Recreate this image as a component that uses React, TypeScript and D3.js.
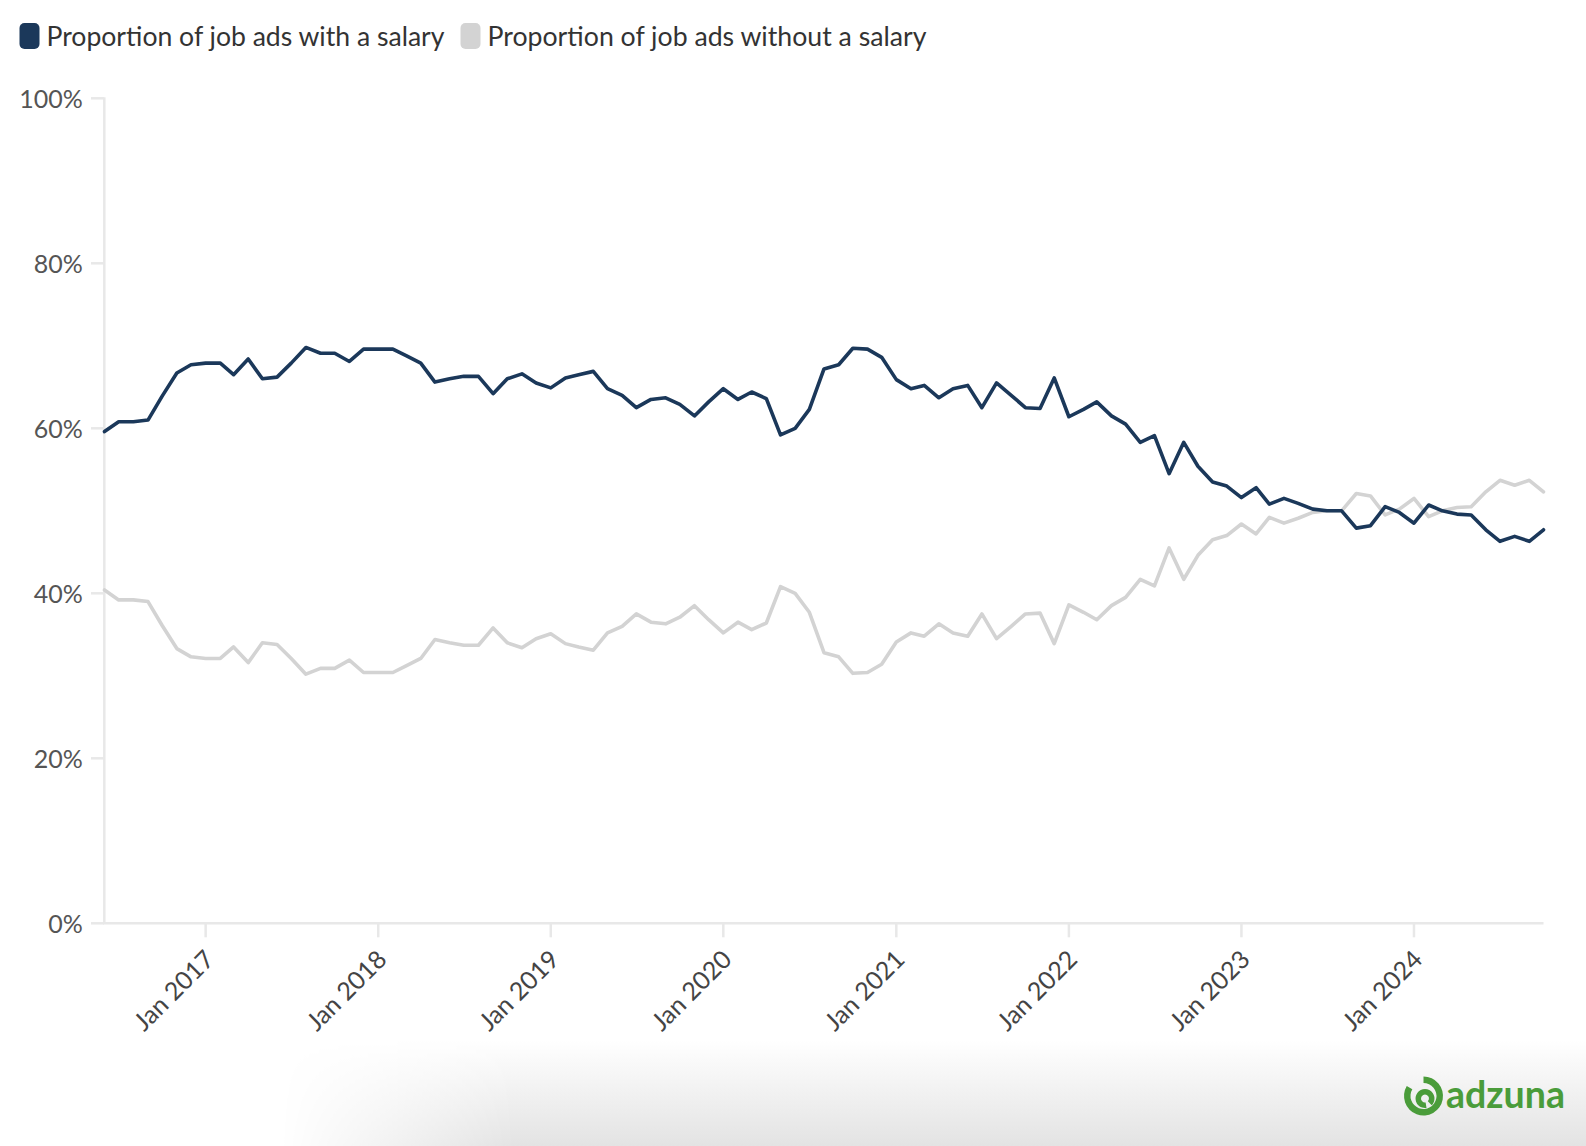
import React, { useEffect, useRef } from "react";
import * as d3 from "d3";

const START_MONTH = "2016-06-01";
const END_MONTH = "2024-10-01";

const withSalary: number[] = [
  59.6, 60.8, 60.8, 61.0, 63.9, 66.7, 67.7, 67.9, 67.9, 66.5,
  68.4, 66.0, 66.2, 67.9, 69.8, 69.1, 69.1, 68.1, 69.6, 69.6,
  69.6, 68.8, 67.9, 65.6, 66.0, 66.3, 66.3, 64.2, 66.0, 66.6,
  65.5, 64.9, 66.1, 66.5, 66.9, 64.8, 64.0, 62.5, 63.5, 63.7,
  62.9, 61.5, 63.2, 64.8, 63.5, 64.4, 63.6, 59.2, 60.0, 62.3,
  67.2, 67.7, 69.7, 69.6, 68.6, 65.9, 64.8, 65.2, 63.7, 64.8,
  65.2, 62.5, 65.5, 64.0, 62.5, 62.4, 66.1, 61.4, 62.3, 63.2,
  61.5, 60.5, 58.3, 59.1, 54.5, 58.3, 55.4, 53.5, 53.0, 51.6,
  52.8, 50.8, 51.5, 50.9, 50.2, 50.0, 50.0, 47.9, 48.2, 50.5,
  49.8, 48.5, 50.7, 50.0, 49.6, 49.5, 47.7, 46.3, 46.9, 46.3,
  47.7,
];

const withoutSalary: number[] = [
  40.4, 39.2, 39.2, 39.0, 36.1, 33.3, 32.3, 32.1, 32.1, 33.5,
  31.6, 34.0, 33.8, 32.1, 30.2, 30.9, 30.9, 31.9, 30.4, 30.4,
  30.4, 31.2, 32.1, 34.4, 34.0, 33.7, 33.7, 35.8, 34.0, 33.4,
  34.5, 35.1, 33.9, 33.5, 33.1, 35.2, 36.0, 37.5, 36.5, 36.3,
  37.1, 38.5, 36.8, 35.2, 36.5, 35.6, 36.4, 40.8, 40.0, 37.7,
  32.8, 32.3, 30.3, 30.4, 31.4, 34.1, 35.2, 34.8, 36.3, 35.2,
  34.8, 37.5, 34.5, 36.0, 37.5, 37.6, 33.9, 38.6, 37.7, 36.8,
  38.5, 39.5, 41.7, 40.9, 45.5, 41.7, 44.6, 46.5, 47.0, 48.4,
  47.2, 49.2, 48.5, 49.1, 49.8, 50.0, 50.0, 52.1, 51.8, 49.5,
  50.2, 51.5, 49.3, 50.0, 50.4, 50.5, 52.3, 53.7, 53.1, 53.7,
  52.3,
];

const seriesNames = [
  "Proportion of job ads with a salary",
  "Proportion of job ads without a salary",
];
const seriesColors = ["#1b385a", "#d3d3d3"];
const yTickValues = [0, 20, 40, 60, 80, 100];
const xTickYears = [2017, 2018, 2019, 2020, 2021, 2022, 2023, 2024];

const W = 1586;
const H = 1146;
const FONT = "Lato, 'Noto Sans', sans-serif";

export default function App() {
  const ref = useRef<SVGSVGElement>(null);

  useEffect(() => {
    const svg = d3.select(ref.current!);
    svg.selectAll("*").remove();

    const parse = d3.utcParse("%Y-%m-%d");
    const start = parse(START_MONTH)!;
    const end = parse(END_MONTH)!;
    const months = d3.utcMonth.range(start, d3.utcMonth.offset(end, 1));

    const x = d3.scaleUtc().domain([start, end]).range([104.5, 1543.5]);
    const y = d3.scaleLinear().domain([0, 100]).range([923.3, 98.3]);

    const defs = svg.append("defs");
    const vg = defs.append("linearGradient").attr("id", "vg").attr("x1", 0).attr("x2", 0).attr("y1", 0).attr("y2", 1);
    vg.append("stop").attr("offset", "0%").attr("stop-color", "#ffffff");
    vg.append("stop").attr("offset", "100%").attr("stop-color", "#e3e3e3");
    const hg = defs.append("linearGradient").attr("id", "hg").attr("x1", 0).attr("x2", 1).attr("y1", 0).attr("y2", 0);
    hg.append("stop").attr("offset", "0%").attr("stop-color", "#000");
    hg.append("stop").attr("offset", "18%").attr("stop-color", "#fff");
    hg.append("stop").attr("offset", "100%").attr("stop-color", "#fff");
    const mask = defs.append("mask").attr("id", "hm");
    mask.append("rect").attr("x", 280).attr("y", 1040).attr("width", W - 280).attr("height", H - 1040).attr("fill", "url(#hg)");

    svg.append("rect").attr("x", 0).attr("y", 0).attr("width", W).attr("height", H).attr("fill", "#fff");
    svg.append("rect").attr("x", 280).attr("y", 1040).attr("width", W - 280).attr("height", H - 1040)
      .attr("fill", "url(#vg)").attr("mask", "url(#hm)");

    // Legend
    const legendX = [19.5, 460.5];
    const legendLen = [398, 439];
    seriesNames.forEach((name, i) => {
      svg.append("rect").attr("x", legendX[i]).attr("y", 23).attr("width", 20).attr("height", 26).attr("rx", 5)
        .attr("fill", seriesColors[i]);
      svg.append("text").attr("x", legendX[i] + 27).attr("y", 45.5).attr("font-family", FONT).attr("font-size", 26)
        .attr("fill", "#333").attr("textLength", legendLen[i]).attr("lengthAdjust", "spacingAndGlyphs").text(name);
    });

    // Axes
    const axisColor = "#e8e8e8";
    svg.append("line").attr("x1", 104.3).attr("x2", 104.3).attr("y1", y(100) - 1).attr("y2", y(0))
      .attr("stroke", axisColor).attr("stroke-width", 2.5);
    svg.append("line").attr("x1", 103).attr("x2", 1543.5).attr("y1", y(0)).attr("y2", y(0))
      .attr("stroke", axisColor).attr("stroke-width", 2.5);

    yTickValues.forEach((v) => {
      svg.append("line").attr("x1", 91).attr("x2", 104).attr("y1", y(v)).attr("y2", y(v))
        .attr("stroke", axisColor).attr("stroke-width", 2.5);
      svg.append("text").attr("x", 82.7).attr("y", y(v) + 9.5).attr("text-anchor", "end")
        .attr("font-family", FONT).attr("font-size", 25).attr("fill", "#555").text(`${v}%`);
    });

    xTickYears.forEach((yr) => {
      const tx = x(new Date(Date.UTC(yr, 0, 1)));
      svg.append("line").attr("x1", tx).attr("x2", tx).attr("y1", y(0)).attr("y2", y(0) + 14)
        .attr("stroke", axisColor).attr("stroke-width", 2.5);
      svg.append("text").attr("transform", `translate(${tx + 10},${961}) rotate(-45)`)
        .attr("text-anchor", "end").attr("font-family", FONT).attr("font-size", 25).attr("fill", "#444")
        .text(`Jan ${yr}`);
    });

    // Lines
    const line = d3.line<number>().x((_, i) => x(months[i])).y((d) => y(d)).curve(d3.curveLinear);
    [withoutSalary, withSalary].forEach((s, k) => {
      svg.append("path").attr("d", line(s)!).attr("fill", "none")
        .attr("stroke", k === 0 ? seriesColors[1] : seriesColors[0])
        .attr("stroke-width", 3.6).attr("stroke-linejoin", "round").attr("stroke-linecap", "round");
    });

    // Logo
    const green = "#4a9c3a";
    const g = svg.append("g");
    const cx = 1423.5, cy = 1096;
    const outer = d3.arc()({ innerRadius: 13, outerRadius: 19.5, startAngle: 0, endAngle: 5.25, cornerRadius: 3 } as any);
    g.append("path").attr("d", outer!).attr("transform", `translate(${cx},${cy})`).attr("fill", green);
    const inner = d3.arc()({ innerRadius: 4, outerRadius: 9.5, startAngle: Math.PI * 0.95, endAngle: Math.PI * 2.75, cornerRadius: 2.6 } as any);
    g.append("path").attr("d", inner!).attr("transform", `translate(${cx + 1.5},${cy + 2.5})`).attr("fill", green);
    g.append("text").attr("x", 1446).attr("y", 1108).attr("font-family", FONT).attr("font-weight", 700)
      .attr("font-size", 38).attr("fill", green).attr("textLength", 119).attr("lengthAdjust", "spacingAndGlyphs").text("adzuna");
  }, []);

  return (
    <svg ref={ref} width={W} height={H} style={{ position: "absolute", left: 0, top: 0, display: "block" }} />
  );
}
